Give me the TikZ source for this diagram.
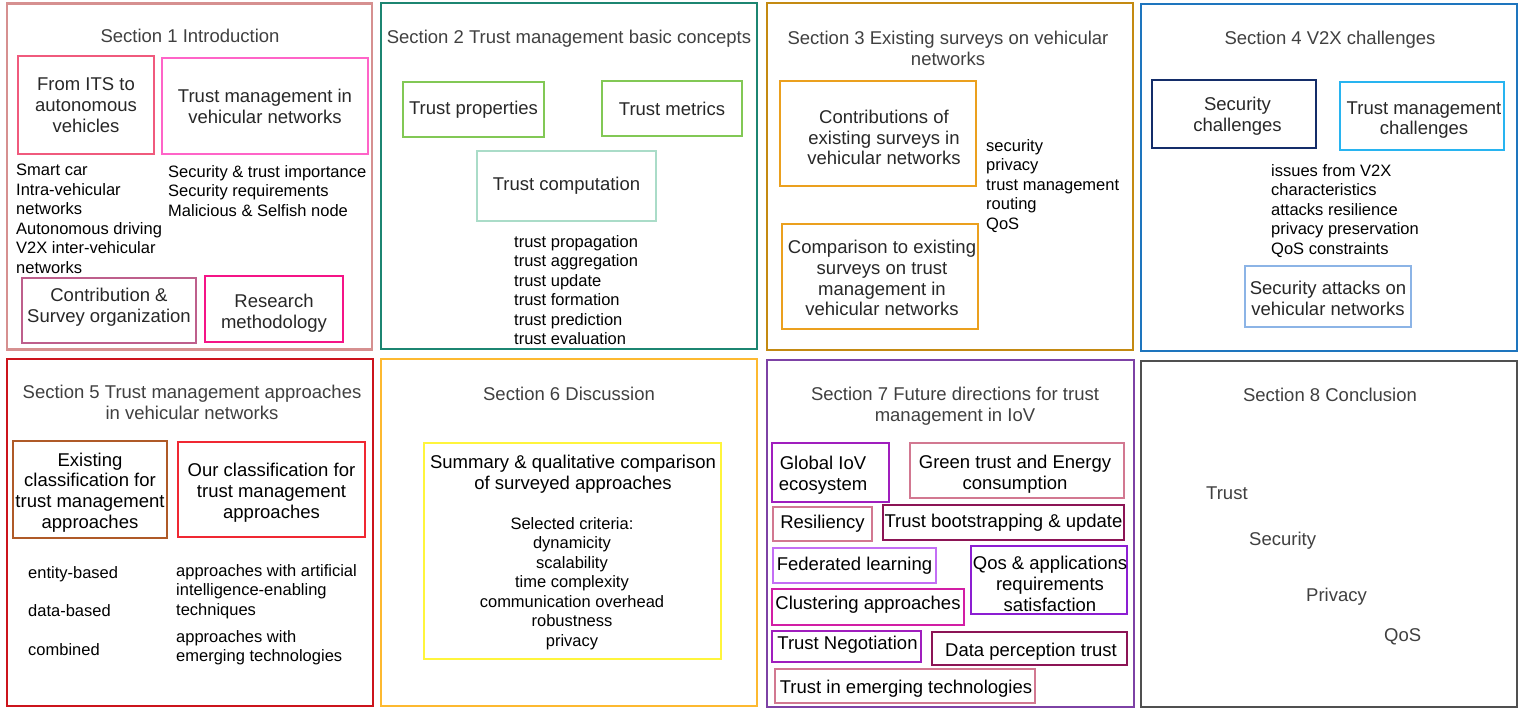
\documentclass[tikz,border=0pt]{standalone}
\usepackage{fontspec}
\setmainfont{Liberation Sans}
\usetikzlibrary{shadows}
\newcommand\bigf{\fontsize{18.5}{20.8}\selectfont}
\newcommand\smallf{\fontsize{16.5}{19.5}\selectfont}
\definecolor{cS1}{RGB}{214,144,144}
\definecolor{cS2}{RGB}{28,133,113}
\definecolor{cS3}{RGB}{196,138,18}
\definecolor{cS4}{RGB}{30,117,190}
\definecolor{cS5}{RGB}{204,20,28}
\definecolor{cS6}{RGB}{253,185,48}
\definecolor{cS7}{RGB}{125,66,165}
\definecolor{cS8}{RGB}{80,80,80}
\definecolor{cFrom}{RGB}{240,90,125}
\definecolor{cTmvn}{RGB}{255,100,200}
\definecolor{cContrib}{RGB}{190,95,140}
\definecolor{cResearch}{RGB}{245,20,135}
\definecolor{cGreenB}{RGB}{130,200,85}
\definecolor{cComp}{RGB}{170,220,200}
\definecolor{cGold}{RGB}{235,160,30}
\definecolor{cNavy}{RGB}{20,45,105}
\definecolor{cSky}{RGB}{40,180,240}
\definecolor{cLBlue}{RGB}{140,180,230}
\definecolor{cBrown}{RGB}{175,90,40}
\definecolor{cRed}{RGB}{240,40,50}
\definecolor{cYellow}{RGB}{255,245,60}
\definecolor{cPurp}{RGB}{160,30,190}
\definecolor{cRose}{RGB}{210,120,145}
\definecolor{cMaroon}{RGB}{140,20,85}
\definecolor{cLPurp}{RGB}{195,110,245}
\definecolor{cViolet}{RGB}{140,30,210}
\definecolor{cMagenta}{RGB}{210,30,165}
\definecolor{cTitle}{RGB}{64,64,64}
\definecolor{cLabel}{RGB}{40,40,40}
\tikzset{
  panel/.style={draw, line width=2.6pt, fill=white, inner sep=0pt,
    drop shadow={shadow xshift=1.2pt, shadow yshift=-1.2pt, fill=black, opacity=0.12}},
  ibox/.style={draw, line width=2.2pt, fill=white, inner sep=0pt, align=center,
    font=\bigf, text=cLabel,
    drop shadow={shadow xshift=1.2pt, shadow yshift=-1.2pt, fill=black, opacity=0.12}},
  lbl/.style={align=center, font=\bigf, text=cLabel, inner sep=0pt},
  ttl/.style={align=center, font=\bigf, text=cTitle, inner sep=0pt},
  lst/.style={align=left, font=\smallf, text=black, inner sep=0pt, anchor=north west},
  word/.style={font=\bigf, text=cTitle, inner sep=0pt, anchor=base west},
}
\begin{document}
\begin{tikzpicture}[x=1pt,y=-1pt]
\useasboundingbox (0,0) rectangle (1524,710);
\fill[white] (0,0) rectangle (1524,710);

% ---------- panels ----------
\node[panel,draw=cS1,minimum width=365pt,minimum height=346pt] (s1) at (189.5,176.5) {};
\node[panel,draw=cS2,minimum width=376pt,minimum height=346pt] (s2) at (569,176) {};
\node[panel,draw=cS3,minimum width=366pt,minimum height=347pt] (s3) at (950,176.5) {};
\node[panel,draw=cS4,minimum width=376pt,minimum height=347pt] (s4) at (1329,177.5) {};
\node[panel,draw=cS5,minimum width=366pt,minimum height=347pt] (s5) at (190,532.5) {};
\node[panel,draw=cS6,minimum width=376pt,minimum height=347pt] (s6) at (569,532.5) {};
\node[panel,draw=cS7,minimum width=367pt,minimum height=347pt] (s7) at (950.5,533.5) {};
\node[panel,draw=cS8,minimum width=376pt,minimum height=346pt] (s8) at (1329,534) {};

% ---------- Section 1 ----------
\node[ttl,anchor=base] (t1) at (190,42.6) {Section 1 Introduction};
\node[ibox,draw=cFrom,minimum width=136pt,minimum height=98pt] (fromits) at (86,105) {From ITS to\\autonomous\\vehicles};
\node[ibox,draw=cTmvn,minimum width=206pt,minimum height=96pt] (tmvn) at (265,106) {Trust management in\\vehicular networks};
\node[lst] (l1a) at (16,164) {Smart car\\Intra-vehicular\\networks\\Autonomous driving\\V2X inter-vehicular\\networks};
\node[lst] (l1b) at (168,165) {Security \& trust importance\\Security requirements\\Malicious \& Selfish node};
\node[ibox,draw=cContrib,minimum width=174pt,minimum height=65pt] (contrib) at (109,310.5) {};
\node[lbl] (contribT) at (109,307.5) {Contribution \&\\Survey organization};
\node[ibox,draw=cResearch,minimum width=138pt,minimum height=66pt] (research) at (274,309) {};
\node[lbl] (researchT) at (274,313) {Research\\methodology};

% ---------- Section 2 ----------
\node[ttl,anchor=base] (t2) at (569,43.6) {Section 2 Trust management basic concepts};
\node[ibox,draw=cGreenB,minimum width=141pt,minimum height=55pt] (tprop) at (473.5,109.5) {Trust properties};
\node[ibox,draw=cGreenB,minimum width=140pt,minimum height=55pt] (tmet) at (672,108.5) {Trust metrics};
\node[ibox,draw=cComp,minimum width=179pt,minimum height=70pt] (tcomp) at (566.5,186) {Trust computation};
\node[lst] (l2) at (514,235) {trust propagation\\trust aggregation\\trust update\\trust formation\\trust prediction\\trust evaluation};

% ---------- Section 3 ----------
\node[ttl] (t3) at (948,48) {Section 3 Existing surveys on vehicular\\networks};
\node[ibox,draw=cGold,minimum width=196pt,minimum height=105pt] (contribs) at (878,133.5) {};
\node[lbl] (contribsT) at (884,137.5) {Contributions of\\existing surveys in\\vehicular networks};
\node[ibox,draw=cGold,minimum width=196pt,minimum height=105pt] (compar) at (880,276.5) {};
\node[lbl] (comparT) at (882,278) {Comparison to existing\\surveys on trust\\management in\\vehicular networks};
\node[lst] (l3) at (986,139) {security\\privacy\\trust management\\routing\\QoS};

% ---------- Section 4 ----------
\node[ttl,anchor=base] (t4) at (1330,44.6) {Section 4 V2X challenges};
\node[ibox,draw=cNavy,minimum width=164pt,minimum height=68pt] (secchal) at (1234,114) {};
\node[lbl] (secchalT) at (1237.5,116) {Security\\challenges};
\node[ibox,draw=cSky,minimum width=164pt,minimum height=68pt] (tmchal) at (1422,116) {};
\node[lbl] (tmchalT) at (1424,120) {Trust management\\challenges};
\node[lst] (l4) at (1271,164) {issues from V2X\\characteristics\\attacks resilience\\privacy preservation\\QoS constraints};
\node[ibox,draw=cLBlue,minimum width=166pt,minimum height=61pt] (secatt) at (1328,296.5) {};
\node[lbl] (secattT) at (1328,298) {Security attacks on\\vehicular networks};

% ---------- Section 5 ----------
\node[ttl] (t5) at (192,402) {Section 5 Trust management approaches\\in vehicular networks};
\node[ibox,draw=cBrown,minimum width=154pt,minimum height=97pt] (exist) at (90,489.5) {};
\node[lbl,text=black] (existT) at (90,492.5) {Existing\\classification for\\trust management\\approaches};
\node[ibox,draw=cRed,minimum width=187pt,minimum height=95pt] (ourc) at (271.5,489.5) {};
\node[lbl,text=black] (ourcT) at (271.5,492.5) {Our classification for\\trust management\\approaches};
\node[lst] (l5a) at (28,566) {entity-based};
\node[lst] (l5b) at (28,604) {data-based};
\node[lst] (l5c) at (28,643) {combined};
\node[lst] (l5d) at (176,564) {approaches with artificial\\intelligence-enabling\\techniques};
\node[lst] (l5e) at (176,630) {approaches with\\emerging technologies};

% ---------- Section 6 ----------
\node[ttl,anchor=base] (t6) at (569,400.6) {Section 6 Discussion};
\node[ibox,draw=cYellow,minimum width=297pt,minimum height=216pt] (summ) at (572.5,551) {};
\node[lbl,text=black] (summt) at (573,474.5) {Summary \& qualitative comparison\\of surveyed approaches};
\node[lbl,font=\smallf,text=black] (summl) at (572,583.5) {Selected criteria:\\dynamicity\\scalability\\time complexity\\communication overhead\\robustness\\privacy};

% ---------- Section 7 ----------
\node[ttl] (t7) at (955,406.5) {Section 7 Future directions for trust\\management in IoV};
\node[ibox,draw=cPurp,minimum width=117pt,minimum height=59pt] (global) at (830.5,472.5) {};
\node[lbl,text=black] (globalT) at (823,475) {Global IoV\\ecosystem};
\node[ibox,draw=cRose,minimum width=214pt,minimum height=55pt] (green) at (1017,470.5) {};
\node[lbl,text=black] (greenT) at (1015,474.5) {Green trust and Energy\\consumption};
\node[ibox,draw=cRose,text=black,minimum width=99pt,minimum height=34pt] (resil) at (822.5,524) {Resiliency};
\node[ibox,draw=cMaroon,text=black,minimum width=241pt,minimum height=35pt] (boot) at (1003.5,522.5) {Trust bootstrapping \& update};
\node[ibox,draw=cLPurp,text=black,minimum width=163pt,minimum height=35pt] (fed) at (854.5,565.5) {Federated learning};
\node[ibox,draw=cViolet,minimum width=156pt,minimum height=68pt] (qos) at (1049,580) {};
\node[lbl,text=black] (qosT) at (1050,584) {Qos \& applications\\requirements\\satisfaction};
\node[ibox,draw=cMagenta,minimum width=192pt,minimum height=36pt] (clust) at (868,607) {};
\node[lbl,text=black] (clustT) at (868,605) {Clustering approaches};
\node[ibox,draw=cPurp,minimum width=149pt,minimum height=31pt] (neg) at (846.5,646.5) {};
\node[lbl,text=black] (negT) at (847.5,644.5) {Trust Negotiation};
\node[ibox,draw=cMaroon,minimum width=195pt,minimum height=33pt] (data) at (1029.5,648.5) {};
\node[lbl,text=black] (dataT) at (1031,651.5) {Data perception trust};
\node[ibox,draw=cRose,minimum width=260pt,minimum height=34pt] (emerg) at (905,686) {};
\node[lbl,text=black] (emergT) at (906,689) {Trust in emerging technologies};

% ---------- Section 8 ----------
\node[ttl,anchor=base] (t8) at (1330,401.6) {Section 8 Conclusion};
\node[word] (w1) at (1206,499.6) {Trust};
\node[word] (w2) at (1249,545.6) {Security};
\node[word] (w3) at (1306,601.6) {Privacy};
\node[word] (w4) at (1384,641.6) {QoS};
\end{tikzpicture}
\end{document}
